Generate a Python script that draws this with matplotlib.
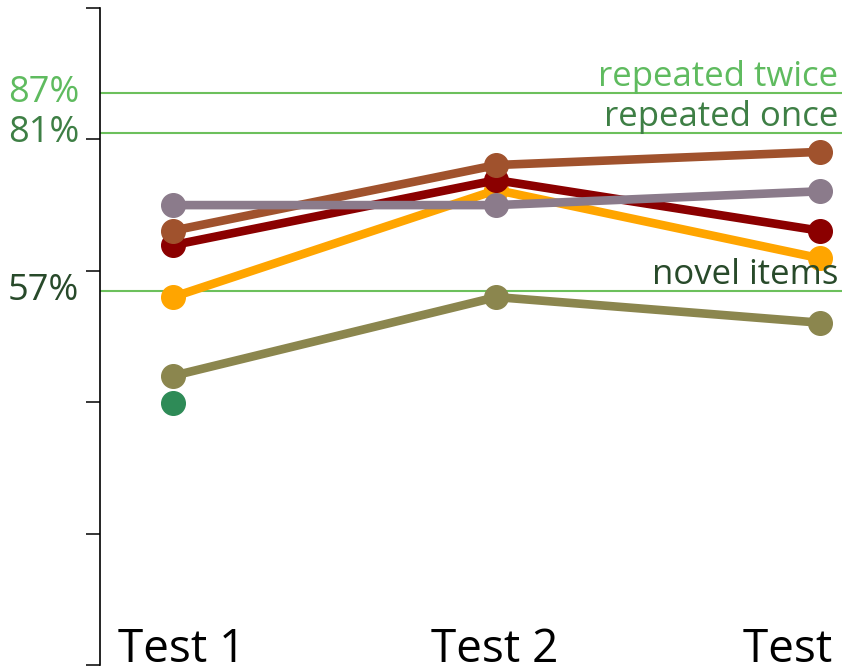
import matplotlib
matplotlib.use('Agg')
import matplotlib.pyplot as plt
import matplotlib.transforms as mtransforms

plt.rcParams['font.family'] = ['Open Sans', 'DejaVu Sans']

# data
tests = ['Test 1', 'Test 2', 'Test 3']
dark_red = [63.9, 73.8, 66.1]
sienna = [66.1, 76.1, 78.1]
grey = [70.0, 70.0, 72.1]
orange = [56.0, 72.3, 61.9]
olive = [44.0, 56.0, 52.1]
green = [39.9]

ref_values = [87, 81, 57]
ref_labels = ['repeated twice', 'repeated once', 'novel items']
ref_colors = ['#5fbb5f', '#3e7f45', '#284a2a']
y_ticks = [0, 20, 40, 60, 80, 100]

fig = plt.figure(figsize=(8.42, 6.70), dpi=100)
ax = fig.add_axes([100 / 842, 5 / 670, 742 / 842, 657 / 670])

x = list(range(len(tests)))

# reference lines
for v in ref_values:
    ax.axhline(v, color='#6cc05c', linewidth=1.5, zorder=1)

series = [
    (orange, '#ffa500'),
    (dark_red, '#8b0000'),
    (sienna, '#a0522d'),
    (grey, '#8b7b8b'),
    (olive, '#8b864e'),
]
for vals, col in series:
    ax.plot(x[:len(vals)], vals, color=col, linewidth=6.2, marker='o',
            markersize=17, solid_capstyle='round', zorder=3)
ax.plot(x[:len(green)], green, color='#2e8b57', linestyle='none', marker='o',
        markersize=17, zorder=3)

# labels of the reference lines
for v, lab, col in zip(ref_values, ref_labels, ref_colors):
    off = mtransforms.offset_copy(ax.transData, fig=fig, x=0, y=5, units='points')
    trans = mtransforms.blended_transform_factory(ax.transAxes, off)
    ax.text(0.995, v, lab, color=col, fontsize=25, ha='right', va='baseline',
            transform=trans, zorder=4)
    ax.text(-0.028, v, f'{v}%', color=col, fontsize=26, ha='right', va='center',
            transform=mtransforms.blended_transform_factory(ax.transAxes, ax.transData),
            clip_on=False)

# category labels inside the plot (slightly shifted like the original)
label_shift = [6.5, -1.5, -9.5]  # points
for i, lab in enumerate(tests):
    off = mtransforms.offset_copy(ax.transData, fig=fig, x=label_shift[i], y=0, units='points')
    xt = mtransforms.blended_transform_factory(off, ax.transAxes)
    ax.text(i, 0.005, lab, fontsize=33, ha='center', va='baseline',
            transform=xt, color='black')

ax.set_xlim(-0.225, 2.068)
ax.set_ylim(0, 100)
ax.set_yticks(y_ticks)
ax.set_yticklabels([])
ax.set_xticks([])
ax.tick_params(axis='y', direction='out', length=10, width=1.1, color='black')
for s in ['top', 'right', 'bottom']:
    ax.spines[s].set_visible(False)
ax.spines['left'].set_linewidth(1.2)
ax.patch.set_alpha(0)

fig.savefig('out.png', dpi=100)
